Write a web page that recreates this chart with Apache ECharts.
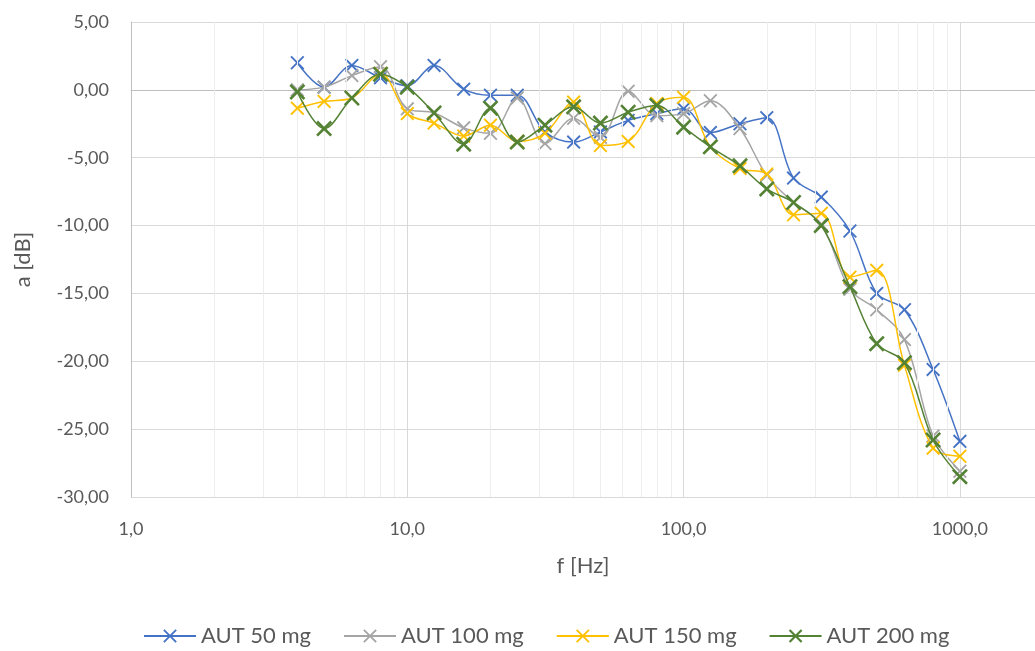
<!DOCTYPE html>
<html>
<head>
<meta charset="utf-8">
<script src="https://cdn.jsdelivr.net/npm/echarts@6/dist/echarts.min.js"></script>
<style>
  html, body { margin: 0; padding: 0; background: #fff; }
  #chart { width: 1035px; height: 651px; }
</style>
</head>
<body>
<div id="chart"></div>
<script>
// third-octave frequencies [Hz]
const freqs = [4, 5, 6.3, 8, 10, 12.5, 16, 20, 25, 31.5, 40, 50, 63, 80, 100,
  125, 160, 200, 250, 315, 400, 500, 630, 800, 1000];

// attenuation a [dB]
const aut50 = [2.0, 0.2, 1.8, 0.9, 0.3, 1.8, 0.05, -0.4, -0.4, -3.1, -3.85, -3.1, -2.25,
  -1.75, -1.4, -3.15, -2.5, -2.05, -6.5, -7.9, -10.4, -15.0, -16.2, -20.6, -25.9];
const aut100 = [0.0, 0.2, 1.05, 1.7, -1.4, -1.7, -2.8, -3.2, -0.6, -3.95, -2.1, -3.5, -0.1,
  -1.9, -1.75, -0.8, -2.85, -6.3, -8.3, -9.9, -14.7, -16.2, -18.4, -25.5, -28.1];
const aut150 = [-1.35, -0.85, -0.6, 1.2, -1.75, -2.45, -3.4, -2.6, -3.8, -3.2, -0.9, -4.1, -3.8,
  -1.0, -0.55, -4.2, -5.8, -6.2, -9.2, -9.1, -13.8, -13.3, -20.3, -26.4, -27.0];
const aut200 = [-0.15, -2.85, -0.6, 1.15, 0.2, -1.7, -4.0, -1.35, -3.85, -2.6, -1.25, -2.45, -1.65,
  -1.15, -2.75, -4.2, -5.6, -7.3, -8.3, -10.0, -14.5, -18.7, -20.1, -25.8, -28.5];

const seriesNames = ['AUT 50 mg', 'AUT 100 mg', 'AUT 150 mg', 'AUT 200 mg'];
const seriesColors = ['#4472C4', '#A5A5A5', '#FFC000', '#548235'];

// minor vertical grid lines (2..9 per decade)
const minorGrid = [2, 3, 4, 5, 6, 7, 8, 9, 20, 30, 40, 50, 60, 70, 80, 90,
  200, 300, 400, 500, 600, 700, 800, 900];

const FONT = 'Lato';
const TXT = '#595959';

// filled "x" marker, d = half arm thickness
const xPath = d => 'path://M0,' + d + 'L' + d + ',0L5,' + (5 - d) + 'L' + (10 - d) + ',0L10,' + d +
  'L' + (5 + d) + ',5L10,' + (10 - d) + 'L' + (10 - d) + ',10L5,' + (5 + d) + 'L' + d + ',10L0,' +
  (10 - d) + 'L' + (5 - d) + ',5Z';

const comma = (v, n) => v.toFixed(n).replace('.', ',');
const isDecade = v => Math.abs(Math.log10(v) - Math.round(Math.log10(v))) < 1e-6;

const chart = echarts.init(document.getElementById('chart'), null, { renderer: 'canvas' });

const dataSets = [aut50, aut100, aut150, aut200];
const series = dataSets.map((vals, i) => ({
  name: seriesNames[i],
  type: 'line',
  data: freqs.map((f, j) => [f, vals[j]]),
  smooth: 0.35,
  symbol: xPath(i === 3 ? 1.15 : 0.95),
  symbolSize: i === 3 ? 16 : 14,
  showSymbol: true,
  lineStyle: { color: seriesColors[i], width: 1.5 },
  itemStyle: { color: seriesColors[i] },
  z: 3 + i,
}));

// minor grid as a background series
series.unshift({
  name: 'minor',
  type: 'line',
  data: [],
  silent: true,
  z: 1,
  markLine: {
    silent: true,
    symbol: 'none',
    animation: false,
    label: { show: false },
    lineStyle: { color: '#EDEDED', type: 'solid', width: 1 },
    data: minorGrid.map(v => ({ xAxis: v })),
  },
});

chart.setOption({
  backgroundColor: '#fff',
  animation: false,
  textStyle: { fontFamily: FONT },
  grid: { left: 131, top: 22, right: 0, bottom: 154, containLabel: false },
  xAxis: {
    type: 'log',
    logBase: 10,
    min: 1,
    max: 1870,
    name: 'f [Hz]',
    nameLocation: 'middle',
    nameGap: 58,
    nameMoveOverlap: false,
    nameTextStyle: { color: TXT, fontSize: 22, fontFamily: FONT },
    axisLine: { show: true, lineStyle: { color: '#BFBFBF', width: 1 } },
    axisTick: { show: false },
    splitLine: { show: true, showMaxLine: false, lineStyle: { color: '#D9D9D9', width: 1 } },
    axisLabel: {
      color: TXT, fontSize: 18, fontFamily: FONT, margin: 23, showMaxLabel: false,
      formatter: v => isDecade(v) ? comma(v, 1) : '',
    },
  },
  yAxis: {
    type: 'value',
    min: -30,
    max: 5,
    interval: 5,
    name: 'a [dB]',
    nameLocation: 'middle',
    nameGap: 97,
    nameMoveOverlap: false,
    nameTextStyle: { color: TXT, fontSize: 22, fontFamily: FONT },
    axisLine: { show: true, lineStyle: { color: '#BFBFBF', width: 1 } },
    axisTick: { show: false },
    splitLine: { lineStyle: { color: '#D9D9D9', width: 1 } },
    axisLabel: { color: TXT, fontSize: 18, fontFamily: FONT, margin: 22, formatter: v => comma(v, 2) },
  },
  legend: {
    data: seriesNames,
    top: 620,
    left: 138,
    itemWidth: 52,
    itemHeight: 17,
    itemGap: 32,
    textStyle: { color: TXT, fontSize: 22, fontFamily: FONT },
  },
  series,
});
</script>
</body>
</html>
